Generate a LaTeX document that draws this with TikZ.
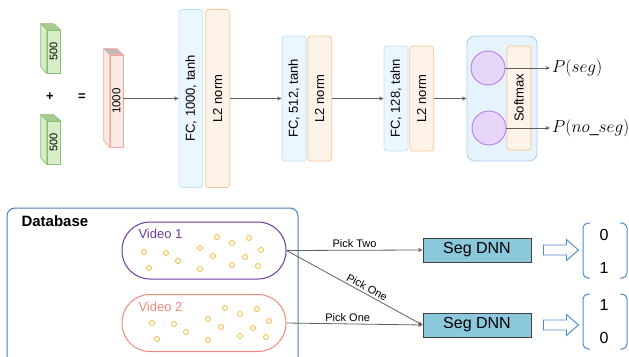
\documentclass[tikz,border=0pt]{standalone}
\usepackage{fontspec}
\setmainfont{Liberation Sans}
\usetikzlibrary{arrows.meta,positioning}

\definecolor{greenfill}{HTML}{D5EDC8}
\definecolor{greenline}{HTML}{8CBF6E}
\definecolor{greentop}{HTML}{A6CC92}
\definecolor{pinkfill}{HTML}{FCEAE6}
\definecolor{pinkline}{HTML}{F2A89E}
\definecolor{pinktop}{HTML}{C4BABA}
\definecolor{fcfill}{HTML}{EAF7FE}
\definecolor{fcline}{HTML}{BDE3F7}
\definecolor{normfill}{HTML}{FDF3E8}
\definecolor{normline}{HTML}{F6C58F}
\definecolor{softfill}{HTML}{E6F3FC}
\definecolor{softline}{HTML}{A6D3F3}
\definecolor{circfill}{HTML}{E6D6FA}
\definecolor{circline}{HTML}{B780EA}
\definecolor{dbline}{HTML}{4A7EBF}
\definecolor{vidpurple}{HTML}{6C3A9E}
\definecolor{vidsalmon}{HTML}{EE8A7C}
\definecolor{dotcol}{HTML}{F5B731}
\definecolor{segfill}{HTML}{8CC8DC}
\definecolor{outblue}{HTML}{4A8BD0}
\definecolor{conngray}{HTML}{606060}

\tikzset{
	fcbox/.style={draw=fcline,fill=fcfill,rounded corners=3pt,line width=0.7pt,minimum width=24pt,inner sep=0pt,font=\fontsize{13}{15}\selectfont},
	normbox/.style={fcbox,draw=normline,fill=normfill},
	conn/.style={draw=conngray,line width=0.8pt,-{Stealth[length=4.5pt,width=4pt]}},
	pill/.style={draw=#1,line width=1pt,rounded corners=28pt,minimum width=164pt,minimum height=57pt},
	segbox/.style={draw=black!75,fill=segfill,line width=0.9pt,minimum width=108pt,minimum height=24pt,font=\fontsize{16}{18}\selectfont},
	lbl/.style={font=\fontsize{11}{13}\selectfont,inner sep=2pt},
	digit/.style={font=\fontsize{16}{18}\selectfont},
}

\begin{document}
\begin{tikzpicture}[x=1pt,y=-1pt]
	\useasboundingbox (0,0) rectangle (629,356);

	% input cuboids
	\node[draw=greenline,fill=greenfill,line width=0.7pt,minimum width=13pt,minimum height=43pt,inner sep=0pt,font=\fontsize{11}{13}\selectfont] (in1) at (53.5,51.5) {\rotatebox{90}{500}};
	\filldraw[draw=greenline,fill=greentop,line width=0.7pt] (in1.north west) -- ++(-6,-6) -- ++(13,0) -- (in1.north east) -- cycle;
	\filldraw[draw=greenline,fill=greenfill,line width=0.7pt] (in1.north west) -- ++(-6,-6) -- ++(0,43) -- (in1.south west) -- cycle;
	\node[draw=greenline,fill=greenfill,line width=0.7pt,minimum width=13pt,minimum height=43pt,inner sep=0pt,font=\fontsize{11}{13}\selectfont] (in2) at (53.5,142.5) {\rotatebox{90}{500}};
	\filldraw[draw=greenline,fill=greentop,line width=0.7pt] (in2.north west) -- ++(-6,-6) -- ++(13,0) -- (in2.north east) -- cycle;
	\filldraw[draw=greenline,fill=greenfill,line width=0.7pt] (in2.north west) -- ++(-6,-6) -- ++(0,43) -- (in2.south west) -- cycle;
	\node[font=\fontsize{13}{15}\selectfont\bfseries] (plus) at (50,97) {+};
	\node[font=\fontsize{13}{15}\selectfont\bfseries] (eq) at (82,97) {=};
	\node[draw=pinkline,fill=pinkfill,line width=0.7pt,minimum width=13pt,minimum height=92pt,inner sep=0pt,font=\fontsize{11.5}{13}\selectfont] (cat) at (116.5,101) {\rotatebox{90}{1000}};
	\filldraw[draw=pinkline,fill=pinktop,line width=0.7pt] (cat.north west) -- ++(-6,-6) -- ++(13,0) -- (cat.north east) -- cycle;
	\filldraw[draw=pinkline,fill=pinkfill,line width=0.7pt] (cat.north west) -- ++(-6,-6) -- ++(0,92) -- (cat.south west) -- cycle;

	% layers
	\node[fcbox,minimum height=178pt] (fc1) at (191,98.5) {\rotatebox{90}{FC, 1000, tanh}};
	\node[normbox,minimum height=178pt,right=2pt of fc1] (nm1) {\rotatebox{90}{L2 norm}};
	\node[fcbox,minimum height=125pt] (fc2) at (294,98.5) {\rotatebox{90}{FC, 512, tanh}};
	\node[normbox,minimum height=125pt,right=1pt of fc2] (nm2) {\rotatebox{90}{L2 norm}};
	\node[fcbox,minimum height=105pt] (fc3) at (396,98.5) {\rotatebox{90}{FC, 128, tahn}};
	\node[normbox,minimum height=105pt,right=1pt of fc3] (nm3) {\rotatebox{90}{L2 norm}};
	\node[draw=softline,fill=softfill,line width=0.9pt,rounded corners=8pt,minimum width=70pt,minimum height=125pt] (out) at (502,98.5) {};
	\node[normbox,minimum height=104pt] (soft) at (519,98) {\rotatebox{90}{Softmax}};
	\node[circle,draw=circline,fill=circfill,line width=0.9pt,minimum size=34pt] (c1) at (488,68) {};
	\node[circle,draw=circline,fill=circfill,line width=0.9pt,minimum size=34pt] (c2) at (489,128) {};
	\node[anchor=west,inner sep=2pt,font=\fontsize{16}{18}\selectfont] (pseg) at (550,68) {$P(seg)$};
	\node[anchor=west,inner sep=2pt,font=\fontsize{16}{18}\selectfont] (pno) at (550,128) {$P(no\_seg)$};

	\draw[conn] (cat.east |- fc1.west) -- (fc1.west);
	\draw[conn] (nm1.east) -- (fc2.west);
	\draw[conn] (nm2.east) -- (fc3.west);
	\draw[conn] (nm3.east) -- (out.west);
	\draw[conn] (c1.east) -- (pseg.west);
	\draw[conn] (c2.east) -- (pno.west);

	% database
	\draw[dbline,line width=1pt,rounded corners=8pt] (7,208) rectangle (298,372);
	\node[anchor=west,font=\fontsize{15}{17}\selectfont\bfseries] (db) at (18,221) {Database};
	\node[pill=vidpurple] (v1) at (204,250.5) {};
	\node[pill=vidsalmon] (v2) at (204,323) {};
	\node[anchor=west,text=vidpurple,font=\fontsize{13}{15}\selectfont] (v1txt) at (135,234) {Video 1};
	\node[anchor=west,text=vidsalmon,font=\fontsize{13}{15}\selectfont] (v2txt) at (135,307) {Video 2};
	\foreach \sx/\sy in {0/0,8/71}{
		\begin{scope}[shift={(\sx,\sy)}]
			\foreach \dx/\dy in {144/252,166/253,178/261,149/268,200/248,217/237,232/243,249/238,213/256,200/269,245/257,261/250,232/265,258/266}
				\draw[dotcol,line width=0.8pt] (\dx,\dy) circle[radius=2.5pt];
		\end{scope}
	}

	\node[segbox] (s1) at (477,250) {Seg DNN};
	\node[segbox] (s2) at (477,325) {Seg DNN};
	\draw[conn] (v1.east) -- node[above,lbl] {Pick Two} (s1.west);
	\draw[conn] (v1.east) -- node[above,sloped,lbl,pos=0.57] {Pick One} (s2.west);
	\draw[conn] (v2.east) -- node[above,lbl,pos=0.45] {Pick One} (s2.west);

	% outputs
	\foreach \nm/\yy in {s1/250,s2/325}{
		\draw[outblue,line width=0.9pt,fill=white] ([xshift=12pt]\nm.east) ++(0,-5) -- ++(23,0) -- ++(0,-5.5) -- ++(12,10.5) -- ++(-12,10.5) -- ++(0,-5.5) -- ++(-23,0) -- cycle;
	}
	\foreach \yt in {223,294}{
		\draw[outblue,line width=1pt,rounded corners=5pt] (590,\yt) -- (583,\yt) -- (583,\yt+55) -- (590,\yt+55);
		\draw[outblue,line width=1pt,rounded corners=5pt] (620,\yt) -- (627,\yt) -- (627,\yt+55) -- (620,\yt+55);
	}
	\node[digit] (o1a) at (604,235) {0};
	\node[digit] (o1b) at (604,268) {1};
	\node[digit] (o2a) at (604,305) {1};
	\node[digit] (o2b) at (604,338) {0};
\end{tikzpicture}
\end{document}
